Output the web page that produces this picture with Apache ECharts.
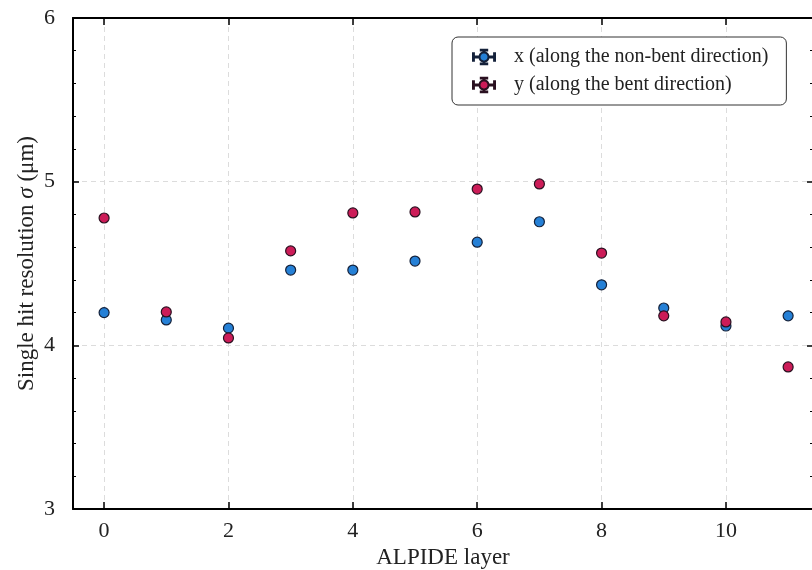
<!DOCTYPE html>
<html>
<head>
<meta charset="utf-8">
<script src="https://cdn.jsdelivr.net/npm/echarts@6/dist/echarts.min.js"></script>
<style>html,body{margin:0;padding:0;background:#fff}#c{width:812px;height:570px}</style>
</head>
<body>
<div id="c"></div>
<script>
var layers = [0,1,2,3,4,5,6,7,8,9,10,11];
var xResolution = [4.20,4.155,4.105,4.46,4.46,4.515,4.63,4.755,4.37,4.228,4.118,4.18];
var yResolution = [4.778,4.204,4.045,4.577,4.809,4.815,4.955,4.986,4.564,4.18,4.143,3.868];
var seriesNames = ['x (along the non-bent direction)','y (along the bent direction)'];
var xTicks = [0,2,4,6,8,10];

var FONT = 'Liberation Serif';
var iconPath = 'path://M0,4H1V7.5H7.1A5,5 0 0 1 11.5,3.1V1H8.5V0H15.5V1H12.5V3.1A5,5 0 0 1 16.9,7.5H23V4H24V12H23V8.5H16.9A5,5 0 0 1 12.5,12.9V15H15.5V16H8.5V15H11.5V12.9A5,5 0 0 1 7.1,8.5H1V12H0Z';

function mk(vals){ return layers.map(function(l,i){ return [l, vals[i]]; }); }

var chart = echarts.init(document.getElementById('c'), null, {renderer:'canvas'});
var axisLine = {show:true, onZero:false, lineStyle:{color:'#000', width:2}};
var split = {show:true, lineStyle:{color:'#dcdcdc', width:1, type:[5,4]}};
chart.setOption({
  animation:false,
  backgroundColor:'#fff',
  grid:{left:73, top:18, width:740, height:491, containLabel:false, outerBoundsMode:'none'},
  legend:{
    orient:'vertical', left:452, top:37,
    padding:[10,18,10,20], itemGap:8, itemWidth:22, itemHeight:15,
    backgroundColor:'#fff', borderColor:'#333', borderWidth:1, borderRadius:6,
    textStyle:{fontFamily:FONT, fontSize:20, color:'#222', padding:[0,0,0,14]},
    data:[{name:seriesNames[0], icon:iconPath},{name:seriesNames[1], icon:iconPath}]
  },
  xAxis:[{
    type:'value', min:-0.5, max:11.4, interval:2, position:'bottom',
    name:'ALPIDE layer', nameLocation:'middle', nameGap:37, nameMoveOverlap:false,
    nameTextStyle:{fontFamily:FONT, fontSize:23, color:'#222'},
    axisLine:axisLine,
    axisTick:{show:true, inside:true, length:7, lineStyle:{color:'#000', width:1.5},
      customValues:xTicks},
    axisLabel:{fontFamily:FONT, fontSize:22, color:'#222', margin:11, customValues:xTicks,
      formatter:function(v){return String(v);} },
    splitLine:split
  },{
    type:'value', min:-0.5, max:11.4, position:'top',
    axisLine:axisLine,
    axisTick:{show:true, inside:true, length:7, lineStyle:{color:'#000', width:1.5}, customValues:xTicks},
    axisLabel:{show:false}, splitLine:{show:false}
  }],
  yAxis:[{
    type:'value', min:3, max:6, interval:1, position:'left',
    name:'Single hit resolution {i|σ} (μm)', nameLocation:'middle', nameGap:35, nameMoveOverlap:false,
    nameTextStyle:{fontFamily:FONT, fontSize:23, color:'#222',
      rich:{i:{fontFamily:FONT, fontStyle:'italic', fontSize:23, color:'#222'}}},
    axisLine:axisLine,
    axisTick:{show:true, inside:true, length:6, lineStyle:{color:'#000', width:1.5}},
    minorTick:{show:true, splitNumber:5, length:3, lineStyle:{color:'#000', width:1}},
    axisLabel:{fontFamily:FONT, fontSize:22, color:'#222', margin:18},
    splitLine:split
  },{
    type:'value', min:3, max:6, interval:1, position:'right',
    axisLine:axisLine,
    axisTick:{show:true, inside:true, length:6, lineStyle:{color:'#000', width:1.5}},
    minorTick:{show:true, splitNumber:5, length:3, lineStyle:{color:'#000', width:1}},
    axisLabel:{show:false}, splitLine:{show:false}
  }],
  series:[{
    name:seriesNames[0], type:'scatter', data:mk(xResolution), symbol:'circle', symbolSize:10,
    itemStyle:{color:'#2580d6', borderColor:'#14213a', borderWidth:1.2, opacity:1}
  },{
    name:seriesNames[1], type:'scatter', data:mk(yResolution), symbol:'circle', symbolSize:10,
    itemStyle:{color:'#cc1c58', borderColor:'#2a1020', borderWidth:1.2, opacity:1}
  }]
});
</script>
</body>
</html>
